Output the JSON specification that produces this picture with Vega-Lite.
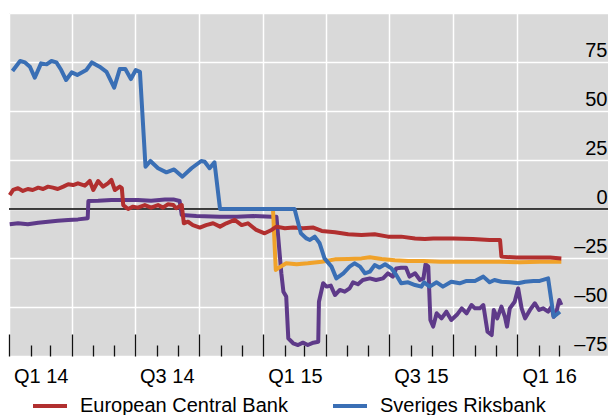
{
  "$schema": "https://vega.github.io/schema/vega-lite/v6.json",
  "width": 599,
  "height": 343,
  "autosize": {"type": "none"},
  "padding": {"left": 9, "top": 13, "right": 0, "bottom": 70},
  "background": "white",
  "config": {"view": {"fill": "#d9d9d9", "stroke": null}, "font": "Liberation Sans"},
  "layer": [
    {
      "data": {"values": [{"v": 0}]},
      "mark": {"type": "rule", "color": "black", "strokeWidth": 1.5},
      "encoding": {
        "y": {"field": "v", "type": "quantitative", "scale": {"domain": [-75, 100], "nice": false, "zero": false}, "axis": {"title": null}}
      }
    },
    {
      "data": {"values": [
        {"s": "Danmarks Nationalbank", "d": "2014-01-02", "v": -7.8},
        {"s": "Danmarks Nationalbank", "d": "2014-01-14", "v": -7.3},
        {"s": "Danmarks Nationalbank", "d": "2014-01-28", "v": -7.8},
        {"s": "Danmarks Nationalbank", "d": "2014-02-12", "v": -7.0},
        {"s": "Danmarks Nationalbank", "d": "2014-02-26", "v": -6.5},
        {"s": "Danmarks Nationalbank", "d": "2014-03-12", "v": -6.0},
        {"s": "Danmarks Nationalbank", "d": "2014-03-27", "v": -5.6},
        {"s": "Danmarks Nationalbank", "d": "2014-04-10", "v": -5.3},
        {"s": "Danmarks Nationalbank", "d": "2014-04-24", "v": -4.7},
        {"s": "Danmarks Nationalbank", "d": "2014-04-25", "v": 4.1},
        {"s": "Danmarks Nationalbank", "d": "2014-05-09", "v": 4.2},
        {"s": "Danmarks Nationalbank", "d": "2014-05-28", "v": 4.6},
        {"s": "Danmarks Nationalbank", "d": "2014-06-16", "v": 4.6},
        {"s": "Danmarks Nationalbank", "d": "2014-07-05", "v": 4.6},
        {"s": "Danmarks Nationalbank", "d": "2014-07-24", "v": 4.2},
        {"s": "Danmarks Nationalbank", "d": "2014-08-13", "v": 4.9},
        {"s": "Danmarks Nationalbank", "d": "2014-08-25", "v": 4.9},
        {"s": "Danmarks Nationalbank", "d": "2014-09-03", "v": 4.1},
        {"s": "Danmarks Nationalbank", "d": "2014-09-06", "v": -3.1},
        {"s": "Danmarks Nationalbank", "d": "2014-09-27", "v": -3.6},
        {"s": "Danmarks Nationalbank", "d": "2014-10-31", "v": -3.9},
        {"s": "Danmarks Nationalbank", "d": "2014-11-24", "v": -3.9},
        {"s": "Danmarks Nationalbank", "d": "2014-12-18", "v": -3.6},
        {"s": "Danmarks Nationalbank", "d": "2015-01-13", "v": -3.9},
        {"s": "Danmarks Nationalbank", "d": "2015-01-20", "v": -3.9},
        {"s": "Danmarks Nationalbank", "d": "2015-01-27", "v": -32.8},
        {"s": "Danmarks Nationalbank", "d": "2015-01-30", "v": -42.2},
        {"s": "Danmarks Nationalbank", "d": "2015-02-03", "v": -44.7},
        {"s": "Danmarks Nationalbank", "d": "2015-02-06", "v": -66},
        {"s": "Danmarks Nationalbank", "d": "2015-02-13", "v": -68.5},
        {"s": "Danmarks Nationalbank", "d": "2015-02-20", "v": -69.4},
        {"s": "Danmarks Nationalbank", "d": "2015-02-27", "v": -68.2},
        {"s": "Danmarks Nationalbank", "d": "2015-03-06", "v": -69.4},
        {"s": "Danmarks Nationalbank", "d": "2015-03-14", "v": -68.2},
        {"s": "Danmarks Nationalbank", "d": "2015-03-21", "v": -67.7},
        {"s": "Danmarks Nationalbank", "d": "2015-03-22", "v": -47.3},
        {"s": "Danmarks Nationalbank", "d": "2015-03-28", "v": -37.9},
        {"s": "Danmarks Nationalbank", "d": "2015-04-02", "v": -39.6},
        {"s": "Danmarks Nationalbank", "d": "2015-04-08", "v": -39.1},
        {"s": "Danmarks Nationalbank", "d": "2015-04-14", "v": -43.9},
        {"s": "Danmarks Nationalbank", "d": "2015-04-21", "v": -41.3},
        {"s": "Danmarks Nationalbank", "d": "2015-04-28", "v": -42.2},
        {"s": "Danmarks Nationalbank", "d": "2015-05-05", "v": -40.5},
        {"s": "Danmarks Nationalbank", "d": "2015-05-10", "v": -37.4},
        {"s": "Danmarks Nationalbank", "d": "2015-05-17", "v": -38.4},
        {"s": "Danmarks Nationalbank", "d": "2015-05-24", "v": -36.2},
        {"s": "Danmarks Nationalbank", "d": "2015-06-03", "v": -35.4},
        {"s": "Danmarks Nationalbank", "d": "2015-06-12", "v": -36.2},
        {"s": "Danmarks Nationalbank", "d": "2015-06-22", "v": -35.4},
        {"s": "Danmarks Nationalbank", "d": "2015-06-29", "v": -32.8},
        {"s": "Danmarks Nationalbank", "d": "2015-07-06", "v": -34.5},
        {"s": "Danmarks Nationalbank", "d": "2015-07-11", "v": -30.3},
        {"s": "Danmarks Nationalbank", "d": "2015-07-18", "v": -30},
        {"s": "Danmarks Nationalbank", "d": "2015-07-25", "v": -30},
        {"s": "Danmarks Nationalbank", "d": "2015-07-30", "v": -34.5},
        {"s": "Danmarks Nationalbank", "d": "2015-08-07", "v": -32.8},
        {"s": "Danmarks Nationalbank", "d": "2015-08-14", "v": -36.2},
        {"s": "Danmarks Nationalbank", "d": "2015-08-19", "v": -35.4},
        {"s": "Danmarks Nationalbank", "d": "2015-08-22", "v": -28.2},
        {"s": "Danmarks Nationalbank", "d": "2015-08-26", "v": -29.4},
        {"s": "Danmarks Nationalbank", "d": "2015-08-29", "v": -56.6},
        {"s": "Danmarks Nationalbank", "d": "2015-09-02", "v": -60},
        {"s": "Danmarks Nationalbank", "d": "2015-09-07", "v": -53.2},
        {"s": "Danmarks Nationalbank", "d": "2015-09-14", "v": -55.8},
        {"s": "Danmarks Nationalbank", "d": "2015-09-21", "v": -52.4},
        {"s": "Danmarks Nationalbank", "d": "2015-09-28", "v": -56.6},
        {"s": "Danmarks Nationalbank", "d": "2015-10-06", "v": -54},
        {"s": "Danmarks Nationalbank", "d": "2015-10-13", "v": -50.7},
        {"s": "Danmarks Nationalbank", "d": "2015-10-20", "v": -53.2},
        {"s": "Danmarks Nationalbank", "d": "2015-10-27", "v": -49},
        {"s": "Danmarks Nationalbank", "d": "2015-11-01", "v": -50.7},
        {"s": "Danmarks Nationalbank", "d": "2015-11-08", "v": -50.7},
        {"s": "Danmarks Nationalbank", "d": "2015-11-13", "v": -49},
        {"s": "Danmarks Nationalbank", "d": "2015-11-19", "v": -62.6},
        {"s": "Danmarks Nationalbank", "d": "2015-11-25", "v": -64.3},
        {"s": "Danmarks Nationalbank", "d": "2015-11-28", "v": -51.5},
        {"s": "Danmarks Nationalbank", "d": "2015-12-03", "v": -55.8},
        {"s": "Danmarks Nationalbank", "d": "2015-12-09", "v": -49.8},
        {"s": "Danmarks Nationalbank", "d": "2015-12-14", "v": -55},
        {"s": "Danmarks Nationalbank", "d": "2015-12-17", "v": -60},
        {"s": "Danmarks Nationalbank", "d": "2015-12-21", "v": -50.7},
        {"s": "Danmarks Nationalbank", "d": "2015-12-28", "v": -47.3},
        {"s": "Danmarks Nationalbank", "d": "2016-01-02", "v": -40.5},
        {"s": "Danmarks Nationalbank", "d": "2016-01-07", "v": -50.7},
        {"s": "Danmarks Nationalbank", "d": "2016-01-12", "v": -55.8},
        {"s": "Danmarks Nationalbank", "d": "2016-01-19", "v": -51.5},
        {"s": "Danmarks Nationalbank", "d": "2016-01-26", "v": -48.1},
        {"s": "Danmarks Nationalbank", "d": "2016-02-01", "v": -51.5},
        {"s": "Danmarks Nationalbank", "d": "2016-02-07", "v": -50.7},
        {"s": "Danmarks Nationalbank", "d": "2016-02-14", "v": -52.4},
        {"s": "Danmarks Nationalbank", "d": "2016-02-19", "v": -49.8},
        {"s": "Danmarks Nationalbank", "d": "2016-02-22", "v": -55},
        {"s": "Danmarks Nationalbank", "d": "2016-02-26", "v": -52.4},
        {"s": "Danmarks Nationalbank", "d": "2016-03-01", "v": -46.4},
        {"s": "Danmarks Nationalbank", "d": "2016-03-04", "v": -49},

        {"s": "Swiss National Bank", "d": "2014-12-24", "v": 0},
        {"s": "Swiss National Bank", "d": "2015-01-15", "v": 0},
        {"s": "Swiss National Bank", "d": "2015-01-19", "v": -31.1},
        {"s": "Swiss National Bank", "d": "2015-01-22", "v": -30.3},
        {"s": "Swiss National Bank", "d": "2015-02-03", "v": -27.7},
        {"s": "Swiss National Bank", "d": "2015-02-18", "v": -28.2},
        {"s": "Swiss National Bank", "d": "2015-03-06", "v": -27.7},
        {"s": "Swiss National Bank", "d": "2015-03-26", "v": -26.9},
        {"s": "Swiss National Bank", "d": "2015-04-14", "v": -25.7},
        {"s": "Swiss National Bank", "d": "2015-05-03", "v": -25.5},
        {"s": "Swiss National Bank", "d": "2015-05-22", "v": -25.2},
        {"s": "Swiss National Bank", "d": "2015-06-03", "v": -24.6},
        {"s": "Swiss National Bank", "d": "2015-06-20", "v": -25.5},
        {"s": "Swiss National Bank", "d": "2015-07-09", "v": -26.2},
        {"s": "Swiss National Bank", "d": "2015-07-28", "v": -26.5},
        {"s": "Swiss National Bank", "d": "2015-08-19", "v": -26.5},
        {"s": "Swiss National Bank", "d": "2015-09-12", "v": -26.9},
        {"s": "Swiss National Bank", "d": "2015-10-10", "v": -26.9},
        {"s": "Swiss National Bank", "d": "2015-11-08", "v": -26.9},
        {"s": "Swiss National Bank", "d": "2015-12-07", "v": -26.9},
        {"s": "Swiss National Bank", "d": "2016-01-04", "v": -27.2},
        {"s": "Swiss National Bank", "d": "2016-02-02", "v": -26.9},
        {"s": "Swiss National Bank", "d": "2016-03-04", "v": -26.9},

        {"s": "European Central Bank", "d": "2014-01-02", "v": 7.1},
        {"s": "European Central Bank", "d": "2014-01-07", "v": 9.7},
        {"s": "European Central Bank", "d": "2014-01-14", "v": 10.6},
        {"s": "European Central Bank", "d": "2014-01-21", "v": 9.2},
        {"s": "European Central Bank", "d": "2014-01-28", "v": 10.2},
        {"s": "European Central Bank", "d": "2014-02-04", "v": 9.7},
        {"s": "European Central Bank", "d": "2014-02-12", "v": 10.9},
        {"s": "European Central Bank", "d": "2014-02-19", "v": 10.2},
        {"s": "European Central Bank", "d": "2014-02-26", "v": 11.4},
        {"s": "European Central Bank", "d": "2014-03-05", "v": 10.9},
        {"s": "European Central Bank", "d": "2014-03-12", "v": 10.2},
        {"s": "European Central Bank", "d": "2014-03-20", "v": 11.4},
        {"s": "European Central Bank", "d": "2014-03-27", "v": 12.6},
        {"s": "European Central Bank", "d": "2014-04-03", "v": 12.2},
        {"s": "European Central Bank", "d": "2014-04-10", "v": 13.1},
        {"s": "European Central Bank", "d": "2014-04-20", "v": 11.9},
        {"s": "European Central Bank", "d": "2014-04-27", "v": 14.3},
        {"s": "European Central Bank", "d": "2014-05-02", "v": 9.7},
        {"s": "European Central Bank", "d": "2014-05-09", "v": 14.3},
        {"s": "European Central Bank", "d": "2014-05-16", "v": 11.4},
        {"s": "European Central Bank", "d": "2014-05-23", "v": 13.1},
        {"s": "European Central Bank", "d": "2014-05-28", "v": 14.8},
        {"s": "European Central Bank", "d": "2014-06-02", "v": 9.7},
        {"s": "European Central Bank", "d": "2014-06-09", "v": 11.4},
        {"s": "European Central Bank", "d": "2014-06-12", "v": 10.6},
        {"s": "European Central Bank", "d": "2014-06-14", "v": 2},
        {"s": "European Central Bank", "d": "2014-06-21", "v": 0},
        {"s": "European Central Bank", "d": "2014-06-28", "v": 1.2},
        {"s": "European Central Bank", "d": "2014-07-05", "v": 0.7},
        {"s": "European Central Bank", "d": "2014-07-15", "v": 2},
        {"s": "European Central Bank", "d": "2014-07-24", "v": 0.7},
        {"s": "European Central Bank", "d": "2014-08-03", "v": 2},
        {"s": "European Central Bank", "d": "2014-08-10", "v": 0.7},
        {"s": "European Central Bank", "d": "2014-08-17", "v": 2.4},
        {"s": "European Central Bank", "d": "2014-08-25", "v": 2},
        {"s": "European Central Bank", "d": "2014-08-29", "v": 0.4},
        {"s": "European Central Bank", "d": "2014-09-06", "v": 2},
        {"s": "European Central Bank", "d": "2014-09-09", "v": -7.3},
        {"s": "European Central Bank", "d": "2014-09-15", "v": -6.5},
        {"s": "European Central Bank", "d": "2014-09-22", "v": -8.2},
        {"s": "European Central Bank", "d": "2014-10-02", "v": -9.5},
        {"s": "European Central Bank", "d": "2014-10-11", "v": -8.2},
        {"s": "European Central Bank", "d": "2014-10-21", "v": -7.3},
        {"s": "European Central Bank", "d": "2014-10-31", "v": -9},
        {"s": "European Central Bank", "d": "2014-11-09", "v": -7.3},
        {"s": "European Central Bank", "d": "2014-11-21", "v": -5.6},
        {"s": "European Central Bank", "d": "2014-12-01", "v": -8.2},
        {"s": "European Central Bank", "d": "2014-12-10", "v": -7.3},
        {"s": "European Central Bank", "d": "2014-12-22", "v": -10.7},
        {"s": "European Central Bank", "d": "2015-01-03", "v": -12.4},
        {"s": "European Central Bank", "d": "2015-01-13", "v": -10.7},
        {"s": "European Central Bank", "d": "2015-01-20", "v": -9},
        {"s": "European Central Bank", "d": "2015-02-01", "v": -9.8},
        {"s": "European Central Bank", "d": "2015-02-13", "v": -9.5},
        {"s": "European Central Bank", "d": "2015-02-27", "v": -9.8},
        {"s": "European Central Bank", "d": "2015-03-14", "v": -9.5},
        {"s": "European Central Bank", "d": "2015-03-26", "v": -11.2},
        {"s": "European Central Bank", "d": "2015-04-14", "v": -11.9},
        {"s": "European Central Bank", "d": "2015-05-03", "v": -12.9},
        {"s": "European Central Bank", "d": "2015-05-22", "v": -13.3},
        {"s": "European Central Bank", "d": "2015-06-10", "v": -12.9},
        {"s": "European Central Bank", "d": "2015-06-29", "v": -14.1},
        {"s": "European Central Bank", "d": "2015-07-18", "v": -14.1},
        {"s": "European Central Bank", "d": "2015-08-07", "v": -15},
        {"s": "European Central Bank", "d": "2015-08-21", "v": -15.3},
        {"s": "European Central Bank", "d": "2015-09-02", "v": -15},
        {"s": "European Central Bank", "d": "2015-10-01", "v": -15},
        {"s": "European Central Bank", "d": "2015-10-29", "v": -15.3},
        {"s": "European Central Bank", "d": "2015-11-22", "v": -15.8},
        {"s": "European Central Bank", "d": "2015-12-07", "v": -15.8},
        {"s": "European Central Bank", "d": "2015-12-09", "v": -24.3},
        {"s": "European Central Bank", "d": "2015-12-31", "v": -24.8},
        {"s": "European Central Bank", "d": "2016-01-24", "v": -24.8},
        {"s": "European Central Bank", "d": "2016-02-17", "v": -24.8},
        {"s": "European Central Bank", "d": "2016-03-04", "v": -25.2},

        {"s": "Sveriges Riksbank", "d": "2014-01-06", "v": 70.4},
        {"s": "Sveriges Riksbank", "d": "2014-01-17", "v": 75.5},
        {"s": "Sveriges Riksbank", "d": "2014-01-24", "v": 74.8},
        {"s": "Sveriges Riksbank", "d": "2014-01-31", "v": 72.6},
        {"s": "Sveriges Riksbank", "d": "2014-02-07", "v": 67},
        {"s": "Sveriges Riksbank", "d": "2014-02-16", "v": 74.3},
        {"s": "Sveriges Riksbank", "d": "2014-02-24", "v": 73.8},
        {"s": "Sveriges Riksbank", "d": "2014-03-03", "v": 75.5},
        {"s": "Sveriges Riksbank", "d": "2014-03-10", "v": 74.8},
        {"s": "Sveriges Riksbank", "d": "2014-03-17", "v": 70.9},
        {"s": "Sveriges Riksbank", "d": "2014-03-24", "v": 65.8},
        {"s": "Sveriges Riksbank", "d": "2014-04-01", "v": 69.7},
        {"s": "Sveriges Riksbank", "d": "2014-04-09", "v": 68.4},
        {"s": "Sveriges Riksbank", "d": "2014-04-22", "v": 70.9},
        {"s": "Sveriges Riksbank", "d": "2014-04-30", "v": 74.8},
        {"s": "Sveriges Riksbank", "d": "2014-05-11", "v": 72.6},
        {"s": "Sveriges Riksbank", "d": "2014-05-21", "v": 70},
        {"s": "Sveriges Riksbank", "d": "2014-06-01", "v": 61.9},
        {"s": "Sveriges Riksbank", "d": "2014-06-09", "v": 71.4},
        {"s": "Sveriges Riksbank", "d": "2014-06-17", "v": 71.4},
        {"s": "Sveriges Riksbank", "d": "2014-06-25", "v": 66.3},
        {"s": "Sveriges Riksbank", "d": "2014-07-02", "v": 70.9},
        {"s": "Sveriges Riksbank", "d": "2014-07-08", "v": 70},
        {"s": "Sveriges Riksbank", "d": "2014-07-16", "v": 21.6},
        {"s": "Sveriges Riksbank", "d": "2014-07-23", "v": 24.5},
        {"s": "Sveriges Riksbank", "d": "2014-08-03", "v": 20.8},
        {"s": "Sveriges Riksbank", "d": "2014-08-15", "v": 18.7},
        {"s": "Sveriges Riksbank", "d": "2014-08-26", "v": 20.2},
        {"s": "Sveriges Riksbank", "d": "2014-09-07", "v": 16.5},
        {"s": "Sveriges Riksbank", "d": "2014-09-20", "v": 20.8},
        {"s": "Sveriges Riksbank", "d": "2014-10-04", "v": 24.5},
        {"s": "Sveriges Riksbank", "d": "2014-10-09", "v": 24.1},
        {"s": "Sveriges Riksbank", "d": "2014-10-16", "v": 20.8},
        {"s": "Sveriges Riksbank", "d": "2014-10-23", "v": 23.8},
        {"s": "Sveriges Riksbank", "d": "2014-10-31", "v": 0},
        {"s": "Sveriges Riksbank", "d": "2015-02-15", "v": 0},
        {"s": "Sveriges Riksbank", "d": "2015-02-24", "v": -12.4},
        {"s": "Sveriges Riksbank", "d": "2015-03-04", "v": -15},
        {"s": "Sveriges Riksbank", "d": "2015-03-09", "v": -15.8},
        {"s": "Sveriges Riksbank", "d": "2015-03-16", "v": -14.1},
        {"s": "Sveriges Riksbank", "d": "2015-03-23", "v": -17.5},
        {"s": "Sveriges Riksbank", "d": "2015-03-30", "v": -25.2},
        {"s": "Sveriges Riksbank", "d": "2015-04-09", "v": -29.4},
        {"s": "Sveriges Riksbank", "d": "2015-04-16", "v": -35.4},
        {"s": "Sveriges Riksbank", "d": "2015-04-26", "v": -32.8},
        {"s": "Sveriges Riksbank", "d": "2015-05-05", "v": -29.4},
        {"s": "Sveriges Riksbank", "d": "2015-05-12", "v": -27.7},
        {"s": "Sveriges Riksbank", "d": "2015-05-20", "v": -29.4},
        {"s": "Sveriges Riksbank", "d": "2015-05-27", "v": -32.8},
        {"s": "Sveriges Riksbank", "d": "2015-06-03", "v": -32},
        {"s": "Sveriges Riksbank", "d": "2015-06-10", "v": -28.6},
        {"s": "Sveriges Riksbank", "d": "2015-06-17", "v": -29.9},
        {"s": "Sveriges Riksbank", "d": "2015-06-25", "v": -28.2},
        {"s": "Sveriges Riksbank", "d": "2015-07-04", "v": -30.3},
        {"s": "Sveriges Riksbank", "d": "2015-07-11", "v": -33.7},
        {"s": "Sveriges Riksbank", "d": "2015-07-18", "v": -37.9},
        {"s": "Sveriges Riksbank", "d": "2015-07-28", "v": -37.4},
        {"s": "Sveriges Riksbank", "d": "2015-08-07", "v": -38.8},
        {"s": "Sveriges Riksbank", "d": "2015-08-16", "v": -39.6},
        {"s": "Sveriges Riksbank", "d": "2015-08-20", "v": -37.4},
        {"s": "Sveriges Riksbank", "d": "2015-08-28", "v": -39.6},
        {"s": "Sveriges Riksbank", "d": "2015-09-07", "v": -37.4},
        {"s": "Sveriges Riksbank", "d": "2015-09-16", "v": -39.6},
        {"s": "Sveriges Riksbank", "d": "2015-09-28", "v": -37.1},
        {"s": "Sveriges Riksbank", "d": "2015-10-10", "v": -37.9},
        {"s": "Sveriges Riksbank", "d": "2015-10-20", "v": -36.7},
        {"s": "Sveriges Riksbank", "d": "2015-11-01", "v": -36.7},
        {"s": "Sveriges Riksbank", "d": "2015-11-13", "v": -34.5},
        {"s": "Sveriges Riksbank", "d": "2015-11-22", "v": -37.4},
        {"s": "Sveriges Riksbank", "d": "2015-11-29", "v": -36.2},
        {"s": "Sveriges Riksbank", "d": "2015-12-09", "v": -37.1},
        {"s": "Sveriges Riksbank", "d": "2015-12-21", "v": -37.4},
        {"s": "Sveriges Riksbank", "d": "2016-01-02", "v": -37.9},
        {"s": "Sveriges Riksbank", "d": "2016-01-12", "v": -37.1},
        {"s": "Sveriges Riksbank", "d": "2016-01-24", "v": -36.7},
        {"s": "Sveriges Riksbank", "d": "2016-02-02", "v": -36.7},
        {"s": "Sveriges Riksbank", "d": "2016-02-14", "v": -35.4},
        {"s": "Sveriges Riksbank", "d": "2016-02-22", "v": -55},
        {"s": "Sveriges Riksbank", "d": "2016-03-02", "v": -52.4}
      ]},
      "mark": {"type": "line", "strokeWidth": 4, "strokeJoin": "round"},
      "encoding": {
        "x": {
          "field": "d", "type": "temporal",
          "scale": {"type": "utc", "domain": [{"year": 2014, "month": 1, "date": 1, "utc": true}, {"year": 2016, "month": 5, "date": 10, "utc": true}]},
          "axis": {
            "title": null, "domain": false,
            "values": [
              {"year": 2014, "month": 1, "date": 1, "utc": true}, {"year": 2014, "month": 2, "date": 1, "utc": true}, {"year": 2014, "month": 3, "date": 1, "utc": true},
              {"year": 2014, "month": 4, "date": 1, "utc": true}, {"year": 2014, "month": 5, "date": 1, "utc": true}, {"year": 2014, "month": 6, "date": 1, "utc": true},
              {"year": 2014, "month": 7, "date": 1, "utc": true}, {"year": 2014, "month": 8, "date": 1, "utc": true}, {"year": 2014, "month": 9, "date": 1, "utc": true},
              {"year": 2014, "month": 10, "date": 1, "utc": true}, {"year": 2014, "month": 11, "date": 1, "utc": true}, {"year": 2014, "month": 12, "date": 1, "utc": true},
              {"year": 2015, "month": 1, "date": 1, "utc": true}, {"year": 2015, "month": 2, "date": 1, "utc": true}, {"year": 2015, "month": 3, "date": 1, "utc": true},
              {"year": 2015, "month": 4, "date": 1, "utc": true}, {"year": 2015, "month": 5, "date": 1, "utc": true}, {"year": 2015, "month": 6, "date": 1, "utc": true},
              {"year": 2015, "month": 7, "date": 1, "utc": true}, {"year": 2015, "month": 8, "date": 1, "utc": true}, {"year": 2015, "month": 9, "date": 1, "utc": true},
              {"year": 2015, "month": 10, "date": 1, "utc": true}, {"year": 2015, "month": 11, "date": 1, "utc": true}, {"year": 2015, "month": 12, "date": 1, "utc": true},
              {"year": 2016, "month": 1, "date": 1, "utc": true}, {"year": 2016, "month": 2, "date": 1, "utc": true}, {"year": 2016, "month": 3, "date": 1, "utc": true}
            ],
            "tickSize": {"condition": {"test": "utcmonth(datum.value) % 3 == 0", "value": -22}, "value": -11},
            "tickColor": "#111111", "tickWidth": 1.3,
            "grid": true, "gridColor": "white", "gridWidth": 1.5,
            "gridOpacity": {"condition": {"test": "utcmonth(datum.value) % 3 == 0", "value": 1}, "value": 0},
            "labelExpr": "utcmonth(datum.value) == 0 ? 'Q1 ' + utcFormat(datum.value, '%y') : (utcmonth(datum.value) == 6 ? 'Q3 ' + utcFormat(datum.value, '%y') : '')",
            "labelOffset": 31.7, "labelPadding": 32,
            "labelFontSize": 20, "labelColor": "black", "labelFont": "Liberation Sans",
            "labelAlign": "center", "labelBaseline": "top",
            "labelOverlap": false, "labelFlush": false, "labelBound": false
          }
        },
        "y": {
          "field": "v", "type": "quantitative",
          "scale": {"domain": [-75, 100], "nice": false, "zero": false},
          "axis": {
            "orient": "right", "title": null, "domain": false, "ticks": false, "tickSize": 0,
            "values": [-75, -50, -25, 0, 25, 50, 75, 100],
            "grid": true, "gridColor": "white", "gridWidth": 1.5,
            "labelAlign": "right", "labelBaseline": "alphabetic", "labelOffset": -5.5, "labelPadding": -1,
            "labelFontSize": 20, "labelColor": "black", "labelFont": "Liberation Sans",
            "labelExpr": "datum.value == 100 ? '' : (datum.value < 0 ? '–' + abs(datum.value) : datum.label)",
            "labelFlush": false, "labelOverlap": false, "labelBound": false
          }
        },
        "color": {
          "field": "s", "type": "nominal",
          "scale": {
            "domain": ["European Central Bank", "Sveriges Riksbank", "Swiss National Bank", "Danmarks Nationalbank"],
            "range": ["#b12f2f", "#3a6fb5", "#f0a22a", "#5e3a89"]
          },
          "legend": {
            "title": null, "orient": "none", "legendX": 22, "legendY": 374,
            "direction": "horizontal", "columns": 2, "padding": 0,
            "symbolType": "stroke", "symbolSize": 1156, "symbolStrokeWidth": 4,
            "labelFontSize": 20, "labelColor": "black", "labelFont": "Liberation Sans",
            "labelOffset": 11, "columnPadding": 37, "rowPadding": 10, "labelLimit": 400
          }
        }
      }
    }
  ]
}
